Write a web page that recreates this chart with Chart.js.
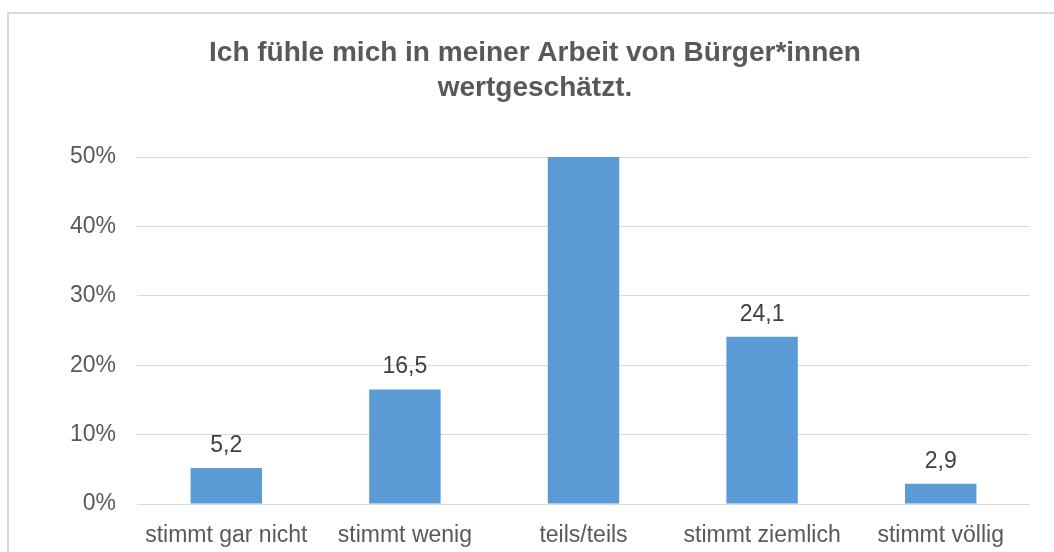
<!DOCTYPE html>
<html><head><meta charset="utf-8">
<script src="https://cdn.jsdelivr.net/npm/chart.js@4.4.1/dist/chart.umd.min.js"></script>
<style>
html,body{margin:0;padding:0;background:#fff;}
#wrap{position:relative;width:1054px;height:552px;overflow:hidden;background:#fff;}
#frame{position:absolute;left:7px;top:12px;width:2000px;height:2000px;border-left:2px solid #d9d9d9;border-top:2px solid #d9d9d9;}
canvas{position:absolute;left:0;top:0;}
</style></head><body>
<div id="wrap"><div id="frame"></div><canvas id="c" width="1054" height="552"></canvas></div>
<script>
const titleLines = ['Ich fühle mich in meiner Arbeit von Bürger*innen', 'wertgeschätzt.'];
const categories = ['stimmt gar nicht', 'stimmt wenig', 'teils/teils', 'stimmt ziemlich', 'stimmt völlig'];
const values = [5.2, 16.5, 51.3, 24.1, 2.9];
const yMin = 0, yMax = 50, yStep = 10;

const FONT = '"Liberation Sans", Arial, sans-serif';

const valueLabels = {
  id: 'valueLabels',
  afterDatasetsDraw(chart) {
    const ctx = chart.ctx;
    const meta = chart.getDatasetMeta(0);
    const max = chart.scales.y.max;
    ctx.save();
    ctx.font = '23px ' + FONT;
    ctx.fillStyle = '#404040';
    ctx.textAlign = 'center';
    ctx.textBaseline = 'alphabetic';
    meta.data.forEach((bar, i) => {
      const v = values[i];
      if (v > max) return;
      ctx.fillText(v.toFixed(1).replace('.', ','), bar.x, bar.y - 16);
    });
    ctx.restore();
  }
};

new Chart(document.getElementById('c'), {
  type: 'bar',
  data: {
    labels: categories,
    datasets: [{
      data: values,
      backgroundColor: '#5B9BD5',
      borderWidth: 0,
      barPercentage: 0.4,
      categoryPercentage: 1.0
    }]
  },
  options: {
    responsive: false,
    animation: false,
    events: [],
    layout: { padding: { top: 36, right: 24, left: 40, bottom: 0 } },
    plugins: {
      legend: { display: false },
      tooltip: { enabled: false },
      title: {
        display: true,
        text: titleLines,
        color: '#595959',
        font: { family: FONT, size: 28, weight: 'bold', lineHeight: 1.25 },
        padding: { top: 0, bottom: 51 }
      }
    },
    scales: {
      x: {
        grid: { display: false, drawTicks: false },
        border: { display: false },
        ticks: { color: '#595959', font: { family: FONT, size: 23 }, padding: 18, maxRotation: 0, autoSkip: false },
        afterFit(s) { s.height = 48; }
      },
      y: {
        min: yMin, max: yMax,
        grid: { color: '#d9d9d9', lineWidth: 1, drawTicks: false },
        border: { display: false },
        ticks: { stepSize: yStep, color: '#595959', font: { family: FONT, size: 23 }, padding: 21,
          callback: v => v + '%' },
        afterFit(s) { s.width = 97; }
      }
    }
  },
  plugins: [valueLabels]
});
</script>
</body></html>
